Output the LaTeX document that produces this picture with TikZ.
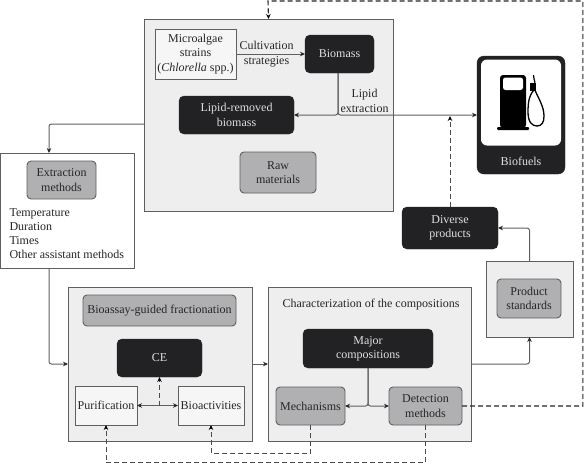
\documentclass[tikz,border=0pt]{standalone}
\usepackage{fontspec}
\setmainfont{Liberation Serif}
\usetikzlibrary{arrows.meta}
\definecolor{dk}{HTML}{222224}
\definecolor{md}{HTML}{B0B0B2}
\definecolor{lt}{HTML}{EEEEEF}
\definecolor{ln}{HTML}{5F5F5F}
\definecolor{dl}{HTML}{4A4A4A}
\tikzset{
  every node/.style={font=\fontsize{12}{14.4}\selectfont,align=center,inner sep=0pt,outer sep=0pt},
  panel/.style={draw=ln,line width=1pt,fill=lt},
  whitebox/.style={draw=ln,line width=1pt,fill=white},
  darkbox/.style={fill=dk,draw=dk,rounded corners=5pt,text=white!88!black},
  midbox/.style={fill=md,draw=ln,line width=.9pt,rounded corners=4pt,text=black!85},
  plainbox/.style={draw=ln,line width=1pt,fill=lt!50!white,text=black!85},
  flow/.style={draw=ln,line width=1pt,rounded corners=2.5pt,-{Stealth[length=5pt,width=4.5pt,color=black!85]}},
  dflow/.style={draw=dl,line width=.9pt,dash pattern=on 5pt off 3pt,-{Stealth[length=5pt,width=4.5pt,color=black]}},
  lab/.style={text=black!85},
}
\begin{document}
\begin{tikzpicture}[x=1pt,y=-1pt]
\useasboundingbox (0,0) rectangle (584,464);
% panels
\node[panel,minimum width=249pt,minimum height=192pt] (toppanel) at (268.5,115) {};
\node[whitebox,minimum width=134.5pt,minimum height=115pt] (extractpanel) at (67.7,210.5) {};
\node[panel,minimum width=184pt,minimum height=154pt] (leftpanel) at (160,364) {};
\node[panel,minimum width=203pt,minimum height=154pt] (charpanel) at (369.5,364) {};
\node[panel,minimum width=87pt,minimum height=76pt] (stdpanel) at (529.5,299) {};
% top panel
\node[plainbox,minimum width=81pt,minimum height=50pt] (strains) at (195.5,54) {Microalgae\\strains\\(\textit{Chlorella} spp.)};
\node[darkbox,minimum width=69pt,minimum height=38pt] (biomass) at (339.5,54) {Biomass};
\node[darkbox,minimum width=115pt,minimum height=38pt] (lrb) at (236.5,115) {Lipid-removed\\biomass};
\node[midbox,minimum width=76pt,minimum height=41pt] (raw) at (278,172.5) {Raw\\materials};
% biofuels
\node[darkbox,rounded corners=7pt,minimum width=88pt,minimum height=118pt] (biofuels) at (521,115) {};
\fill[white,rounded corners=6pt] (481,59.5) rectangle (561,145.5);
\node[text=white!88!black] (biofuelslabel) at (521,161) {Biofuels};
% pump icon
\fill[black,rounded corners=3pt] (500,75) rectangle (526,128);
\fill[white,rounded corners=2.5pt] (503,77.5) rectangle (523,90);
\fill[black,rounded corners=1pt] (497,127) rectangle (529,130);
\fill[black] (530,83) rectangle (536,90.5);
\draw[black,line width=1.2pt] (533.5,75) .. controls (533,78) and (535,80) .. (535,84);
\draw[black,line width=1.3pt] (534,90) .. controls (530,94) and (528,100) .. (528,112)
  .. controls (528,122) and (532,126) .. (537,126)
  .. controls (542,126) and (544,122) .. (544,116)
  .. controls (544,106) and (538,98) .. (535,90);
% others
\node[darkbox,minimum width=96pt,minimum height=42pt] (diverse) at (450,228) {Diverse\\products};
\node[midbox,minimum width=64pt,minimum height=39pt] (standards) at (529,298.5) {Product\\standards};
\node[midbox,minimum width=69pt,minimum height=38pt] (extractm) at (61.5,180) {Extraction\\methods};
\node[lab,align=left,anchor=north west,font=\fontsize{12}{14}\selectfont] (extractlist) at (9.5,208.5) {Temperature\\Duration\\Times\\Other assistant methods};
% left panel
\node[midbox,minimum width=153pt,minimum height=31pt] (bioassay) at (159.5,310.5) {Bioassay-guided fractionation};
\node[darkbox,minimum width=85pt,minimum height=38pt] (ce) at (159.5,358) {CE};
\node[plainbox,minimum width=62pt,minimum height=39pt] (purif) at (106,405.5) {Purification};
\node[plainbox,minimum width=66pt,minimum height=39pt] (bioact) at (211,405.5) {Bioactivities};
% char panel
\node[lab] (chartitle) at (371,305) {Characterization of the compositions};
\node[darkbox,minimum width=130pt,minimum height=39pt] (major) at (368,348.5) {Major\\compositions};
\node[midbox,minimum width=69pt,minimum height=38pt] (mech) at (310.5,406) {Mechanisms};
\node[midbox,minimum width=73pt,minimum height=38pt] (detect) at (425.5,406) {Detection\\methods};
% labels
\node[lab] (cult) at (266.5,54) {Cultivation\\strategies};
\node[lab] (lipid) at (364.5,101) {Lipid\\extraction};
% connectors
\draw[flow] (strains.east) -- (biomass.west);
\draw[flow] ([xshift=-1.5pt]biomass.south) |- (lrb.east);
\draw[flow] ([xshift=-1.5pt]biomass.south) |- (biofuels.west);
\draw[flow] ([yshift=-9pt]toppanel.west) -| ([xshift=-18.7pt]extractpanel.north);
\draw[flow] ([xshift=-18.7pt]extractpanel.south) |- (leftpanel.west);
\draw[flow] (leftpanel.east) -- (charpanel.west);
\draw[flow] (charpanel.east) -| (stdpanel.south);
\draw[flow] (stdpanel.north) |- (diverse.east);
\draw[flow,rounded corners=0pt,{Stealth[length=5pt,width=4.5pt,color=black!85]}-{Stealth[length=5pt,width=4.5pt,color=black!85]}] (purif.east) -- (bioact.west);
\draw[flow] (major.south) |- (mech.east);
\draw[flow] (major.south) |- (detect.west);
\coordinate (cemid) at (ce.south |- purif.east);
\draw[dflow] (cemid) -- (ce.south);
\draw[dflow] (diverse.north) -- (450,116);
\coordinate (dcornerA) at (582.8,406);
\coordinate (dcornerB) at (582.8,1);
\coordinate (dcornerC) at (268,1);
\draw[dflow,draw=black!85,line width=1.1pt] (detect.east) -- (dcornerA) -- (dcornerB) -- (dcornerC) -- (toppanel.north);
\coordinate (mA) at (mech.south |- 0,453);
\coordinate (mB) at (bioact.south |- 0,453);
\draw[dflow] (mech.south) -- (mA) -- (mB) -- (bioact.south);
\coordinate (dA) at (detect.south |- 0,462.8);
\coordinate (dB) at (purif.south |- 0,462.8);
\draw[dflow] (detect.south) -- (dA) -- (dB) -- (purif.south);
\end{tikzpicture}
\end{document}
